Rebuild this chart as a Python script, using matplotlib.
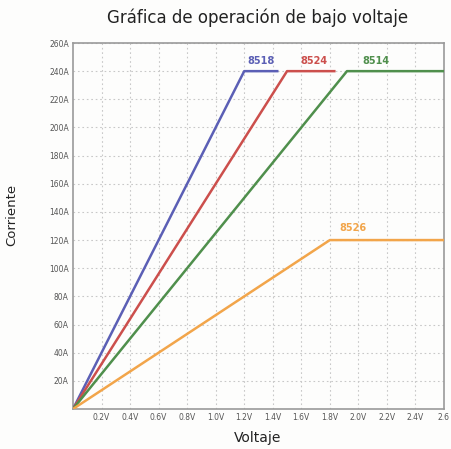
import matplotlib
matplotlib.use("Agg")
import matplotlib.pyplot as plt

# Data
series_names = ["8518", "8524", "8514", "8526"]
series_x = [[0.0, 1.2, 1.44], [0.0, 1.5, 1.84], [0.0, 1.92, 2.6], [0.0, 1.8, 2.6]]
series_y = [[0, 240, 240], [0, 240, 240], [0, 240, 240], [0, 120, 120]]
series_colors = ["#5b5fb5", "#cc4f4c", "#4f8f4c", "#f2a54a"]
label_pos = [(1.32, 244), (1.69, 244), (2.12, 244), (1.96, 125)]

x_ticks = [0.2, 0.4, 0.6, 0.8, 1.0, 1.2, 1.4, 1.6, 1.8, 2.0, 2.2, 2.4, 2.6]
x_ticklabels = ["0.2V", "0.4V", "0.6V", "0.8V", "1.0V", "1.2V", "1.4V", "1.6V",
                "1.8V", "2.0V", "2.2V", "2.4V", "2.6"]
y_ticks = [20, 40, 60, 80, 100, 120, 140, 160, 180, 200, 220, 240, 260]
y_ticklabels = ["20A", "40A", "60A", "80A", "100A", "120A", "140A", "160A",
                "180A", "200A", "220A", "240A", "260A"]

fig = plt.figure(figsize=(4.52, 4.49), dpi=100)
fig.patch.set_facecolor("#fdfdfc")
ax = fig.add_axes([73/452, 1-409/449, (444-73)/452, (409-43)/449])
ax.set_facecolor("#fdfdfc")

for name, xs, ys, c, (lx, ly) in zip(series_names, series_x, series_y, series_colors, label_pos):
    ax.plot(xs, ys, color=c, lw=1.8, solid_capstyle="butt", zorder=3)
    ax.text(lx, ly, name, color=c, fontsize=7, fontweight="bold",
            ha="center", va="bottom", zorder=4)

ax.set_xlim(0, 2.6)
ax.set_ylim(0, 260)
ax.set_xticks(x_ticks)
ax.set_xticklabels(x_ticklabels)
ax.set_yticks(y_ticks)
ax.set_yticklabels(y_ticklabels)
ax.tick_params(axis="both", length=0, labelsize=5.5, colors="#555555", pad=3)
ax.grid(True, color="#c8c8c8", linestyle=(0, (1.5, 2.5)), linewidth=0.8)
for s in ax.spines.values():
    s.set_color("#9a9a9a")
    s.set_linewidth(1.2)

fig.text(258/452, 1-18/449, "Gráfica de operación de bajo voltaje",
         ha="center", va="center", fontsize=12, color="#222222")
fig.text(12/452, 1-215/449, "Corriente", rotation=90, ha="center", va="center",
         fontsize=9.5, color="#222222")
fig.text(258/452, 1-438/449, "Voltaje", ha="center", va="center",
         fontsize=10, color="#222222")

fig.savefig("out.png", dpi=100, facecolor=fig.get_facecolor())
